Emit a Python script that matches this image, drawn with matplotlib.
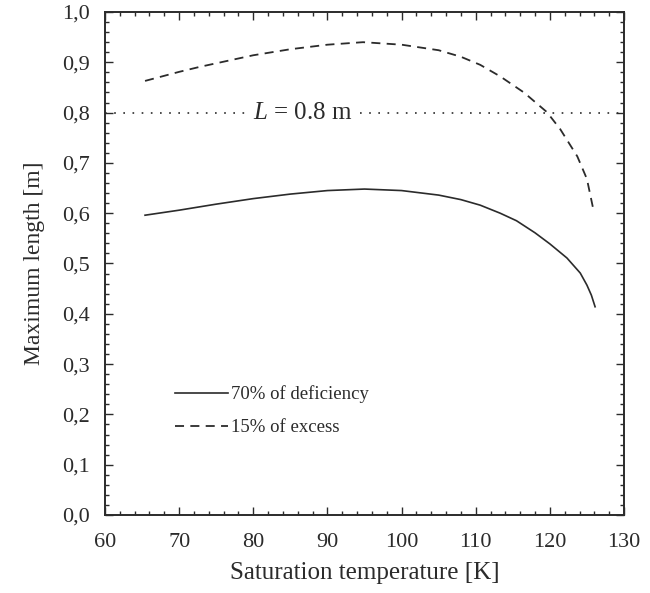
import matplotlib
matplotlib.use("Agg")
import matplotlib.pyplot as plt
from matplotlib.ticker import MultipleLocator, FuncFormatter

plt.rcParams['font.family'] = ['Liberation Serif', 'DejaVu Serif']
plt.rcParams['mathtext.fontset'] = 'custom'
plt.rcParams['mathtext.rm'] = 'Liberation Serif'
plt.rcParams['mathtext.it'] = 'Liberation Serif:italic'

# 70% of deficiency (solid)
t_def = [65.4, 70, 75, 80, 85, 90, 95, 100, 105, 108, 110.6, 113.3, 115.5, 118, 120,
         122.3, 124.1, 125.0, 125.6, 126.1]
l_def = [0.596, 0.606, 0.618, 0.629, 0.638, 0.645, 0.648, 0.645, 0.636, 0.627, 0.616,
         0.600, 0.585, 0.561, 0.539, 0.511, 0.481, 0.457, 0.437, 0.414]

# 15% of excess (dashed)
t_exc = [65.4, 70, 72.8, 80, 85, 90, 94.8, 100, 105, 108, 110.6, 113.3, 116.5, 119.6,
         121.4, 123.7, 125.0, 125.8]
l_exc = [0.863, 0.881, 0.891, 0.914, 0.926, 0.935, 0.940, 0.935, 0.924, 0.911, 0.895,
         0.872, 0.840, 0.801, 0.767, 0.713, 0.668, 0.612]

L_limit = 0.8
ink = '#2b2b2b'

fig = plt.figure(figsize=(6.5, 5.93), dpi=100)
ax = fig.add_axes([105 / 650, 1 - 515 / 593, 519 / 650, 503 / 593])

ax.plot(t_def, l_def, color=ink, lw=1.2, label='70% of deficiency')
ax.plot(t_exc, l_exc, color=ink, lw=1.3, ls=(0, (5, 3.5)), label='15% of excess')

# dotted reference line, broken where the label sits
ax.plot([60, 78.9], [L_limit, L_limit], color=ink, lw=1.2, ls=(0, (1, 4.5)))
ax.plot([94.4, 130], [L_limit, L_limit], color=ink, lw=1.2, ls=(0, (1, 4.5)))
ax.text(86.7, L_limit, r'$\mathit{L}$ = 0.8 m', ha='center', va='center',
        fontsize=18, color=ink)

ax.set_xlim(60, 130)
ax.set_ylim(0, 1.0)
ax.xaxis.set_major_locator(MultipleLocator(10))
ax.xaxis.set_minor_locator(MultipleLocator(2))
ax.yaxis.set_major_locator(MultipleLocator(0.1))
ax.yaxis.set_minor_locator(MultipleLocator(0.02))
ax.yaxis.set_major_formatter(FuncFormatter(lambda v, p: f'{v:.1f}'.replace('.', ',')))
ax.tick_params(which='both', direction='in', top=True, right=True,
               colors=ink, labelsize=16, width=1.0)
ax.tick_params(which='major', length=6)
ax.tick_params(which='minor', length=3)
ax.tick_params(axis='x', which='major', pad=13)
ax.tick_params(axis='y', which='major', pad=11)
for s in ax.spines.values():
    s.set_color(ink)
    s.set_linewidth(1.4)

ax.set_xlabel('Saturation temperature [K]', fontsize=18, color=ink, labelpad=7)
ax.set_ylabel('Maximum length [m]', fontsize=17, color=ink, labelpad=12)

leg = ax.legend(loc='upper left', bbox_to_anchor=(0.135, 0.258), frameon=False,
                borderpad=0, borderaxespad=0, fontsize=13.5, handlelength=2.8,
                handletextpad=0.2, labelspacing=0.85)
for t in leg.get_texts():
    t.set_color(ink)

fig.savefig('out.png', dpi=100)
